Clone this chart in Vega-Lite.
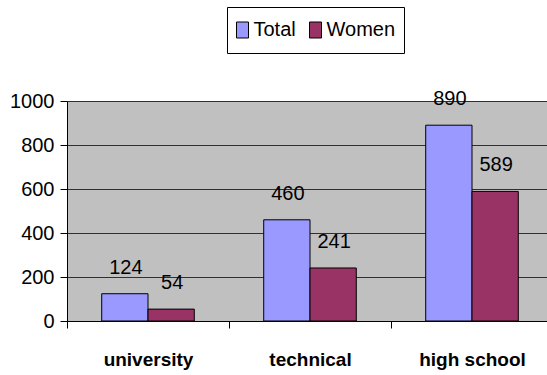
{
  "$schema": "https://vega.github.io/schema/vega-lite/v6.json",
  "width": 480,
  "height": 220,
  "autosize": {"type": "none"},
  "padding": {"left": 67, "top": 101, "right": 0, "bottom": 54},
  "background": "white",
  "config": {
    "view": {"fill": "#C0C0C0", "stroke": null},
    "font": "Liberation Sans"
  },
  "data": {
    "values": [
      {"level": "university", "series": "Total", "count": 124},
      {"level": "university", "series": "Women", "count": 54},
      {"level": "technical", "series": "Total", "count": 460},
      {"level": "technical", "series": "Women", "count": 241},
      {"level": "high school", "series": "Total", "count": 890},
      {"level": "high school", "series": "Women", "count": 589}
    ]
  },
  "encoding": {
    "x": {
      "field": "level",
      "type": "nominal",
      "sort": ["university", "technical", "high school"],
      "scale": {"range": [0, 486], "paddingInner": 0, "paddingOuter": 0},
      "axis": {
        "title": null,
        "labelAngle": 0,
        "grid": false,
        "tickBand": "extent",
        "tickSize": 7,
        "tickColor": "black",
        "domainColor": "black",
        "labelFontWeight": "bold",
        "labelFontSize": 19,
        "labelColor": "black",
        "labelBaseline": "alphabetic",
        "labelPadding": 37
      }
    },
    "xOffset": {
      "field": "series",
      "type": "nominal",
      "sort": ["Total", "Women"],
      "scale": {"paddingOuter": 0.75, "paddingInner": 0}
    },
    "y": {
      "field": "count",
      "type": "quantitative",
      "scale": {"domain": [0, 1000], "nice": false},
      "axis": {
        "title": null,
        "values": [0, 200, 400, 600, 800, 1000],
        "format": "d",
        "grid": true,
        "gridColor": "#303030",
        "gridOpacity": 1,
        "tickSize": 7,
        "tickColor": "black",
        "domainColor": "black",
        "labelFontSize": 20,
        "labelColor": "black",
        "labelPadding": 6
      }
    }
  },
  "layer": [
    {
      "mark": {"type": "bar", "stroke": "black", "strokeWidth": 1},
      "encoding": {
        "color": {
          "field": "series",
          "type": "nominal",
          "sort": ["Total", "Women"],
          "scale": {"range": ["#9999FF", "#993366"]},
          "legend": {
            "title": null,
            "orient": "none",
            "legendX": 160,
            "legendY": -94,
            "direction": "horizontal",
            "symbolType": "M-0.75,-1H0.75V1H-0.75Z",
            "symbolSize": 256,
            "symbolStrokeColor": "black",
            "symbolStrokeWidth": 1,
            "symbolOpacity": 1,
            "symbolOffset": -2.5,
            "strokeColor": "black",
            "fillColor": "white",
            "padding": 8,
            "clipHeight": 30,
            "labelFontSize": 20,
            "labelColor": "black",
            "labelOffset": 1,
            "columnPadding": 12
          }
        }
      }
    },
    {
      "mark": {"type": "text", "baseline": "alphabetic", "dy": -20, "dx": 1, "fontSize": 20, "color": "black"},
      "encoding": {"text": {"field": "count", "type": "quantitative"}}
    }
  ]
}
